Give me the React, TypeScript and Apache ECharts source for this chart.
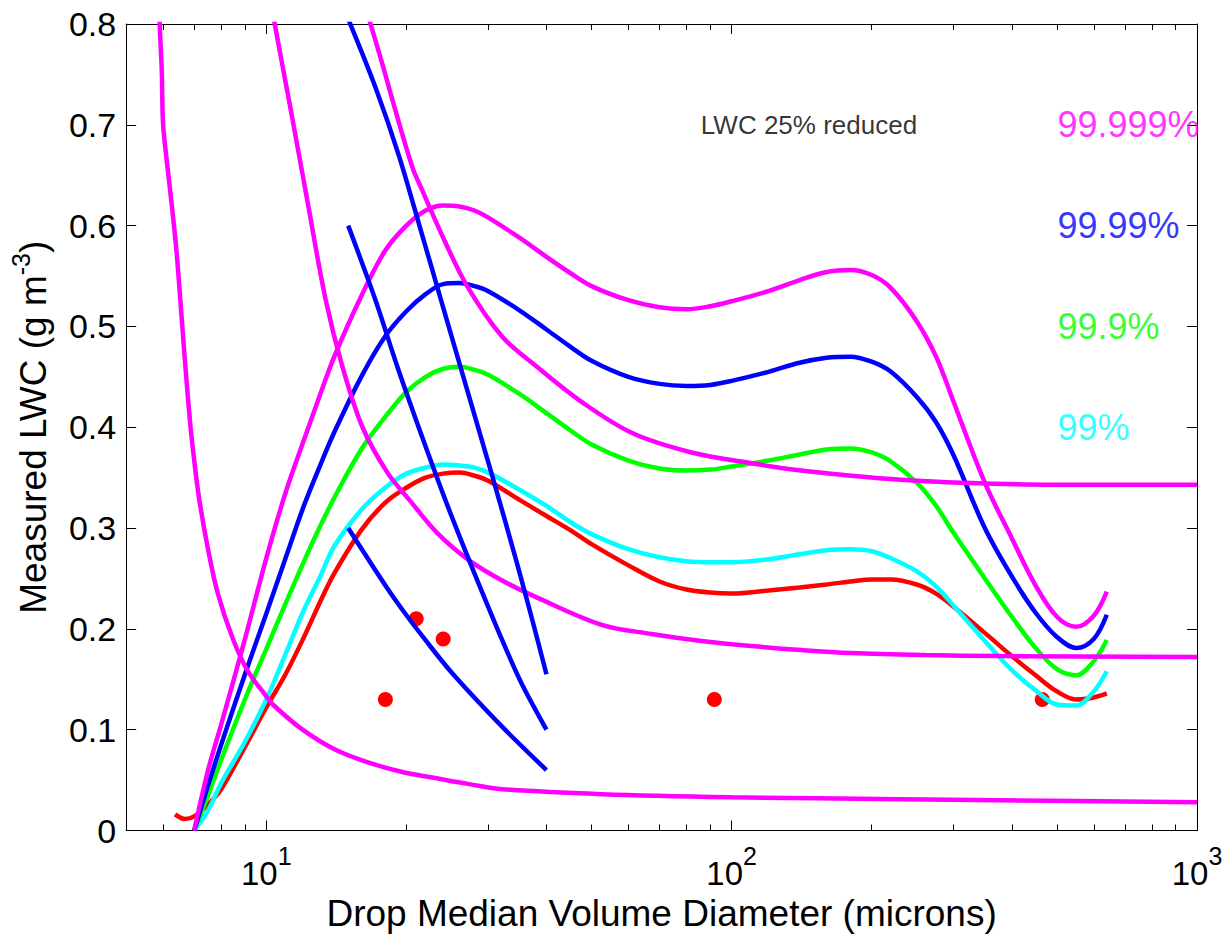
import React, { useEffect, useRef } from 'react';
import * as echarts from 'echarts';

const FONT = '"Liberation Sans", Arial, Helvetica, sans-serif';

// Drop median volume diameter grid (microns) for the five threshold curves
const diam = [7, 7.5, 8, 9, 10, 11, 12, 13, 14, 16, 18, 20, 22, 24, 26, 28, 30, 35, 40, 45, 50, 60, 70, 80, 90, 100, 120, 140, 160, 180, 200, 220, 250, 275, 300, 350, 400, 450, 500, 550, 600, 640];
const lwcRed = [0.014, 0.026, 0.041, 0.083, 0.122, 0.155, 0.19, 0.225, 0.255, 0.298, 0.325, 0.34, 0.35, 0.354, 0.355, 0.352, 0.347, 0.328, 0.312, 0.298, 0.284, 0.263, 0.247, 0.239, 0.236, 0.235, 0.238, 0.241, 0.244, 0.247, 0.249, 0.249, 0.244, 0.235, 0.222, 0.196, 0.173, 0.154, 0.138, 0.13, 0.132, 0.136];
const lwc99 = [0, 0.02, 0.047, 0.088, 0.13, 0.175, 0.217, 0.25, 0.282, 0.318, 0.34, 0.354, 0.36, 0.363, 0.362, 0.36, 0.355, 0.338, 0.322, 0.306, 0.294, 0.279, 0.271, 0.267, 0.266, 0.266, 0.269, 0.274, 0.278, 0.279, 0.277, 0.27, 0.257, 0.242, 0.223, 0.188, 0.159, 0.139, 0.125, 0.124, 0.138, 0.158];
const lwc999 = [0, 0.035, 0.07, 0.13, 0.18, 0.225, 0.265, 0.3, 0.33, 0.378, 0.41, 0.435, 0.45, 0.458, 0.46, 0.457, 0.452, 0.433, 0.414, 0.397, 0.383, 0.367, 0.359, 0.357, 0.358, 0.361, 0.367, 0.373, 0.378, 0.379, 0.375, 0.366, 0.345, 0.322, 0.295, 0.25, 0.212, 0.181, 0.16, 0.154, 0.168, 0.189];
const lwc9999 = [0, 0.045, 0.085, 0.155, 0.215, 0.27, 0.32, 0.36, 0.395, 0.45, 0.49, 0.515, 0.532, 0.542, 0.543, 0.54, 0.535, 0.516, 0.497, 0.48, 0.466, 0.45, 0.443, 0.441, 0.442, 0.446, 0.455, 0.464, 0.469, 0.47, 0.465, 0.455, 0.43, 0.405, 0.372, 0.3, 0.252, 0.216, 0.192, 0.181, 0.19, 0.214];
const lwc99999 = [0, 0.06, 0.105, 0.19, 0.27, 0.335, 0.385, 0.43, 0.47, 0.53, 0.575, 0.6, 0.615, 0.62, 0.619, 0.615, 0.608, 0.588, 0.569, 0.553, 0.54, 0.526, 0.519, 0.517, 0.52, 0.525, 0.535, 0.546, 0.554, 0.556, 0.551, 0.538, 0.505, 0.47, 0.425, 0.345, 0.29, 0.243, 0.212, 0.202, 0.213, 0.237];
const redHook: [number, number][] = [[6.37, 0.016], [6.68, 0.0115]];

// Falling magenta curves [diameter, LWC]
const magentaLow: [number, number][] = [[5.88, 0.86], [5.904, 0.8], [5.963, 0.754], [6.0, 0.702], [6.1, 0.668], [6.25, 0.625], [6.41, 0.576], [6.52, 0.533], [6.69, 0.465], [6.86, 0.405], [6.99, 0.37], [7.17, 0.33], [7.49, 0.28], [7.87, 0.235], [8.48, 0.19], [9.13, 0.158], [9.93, 0.135], [10.33, 0.125], [11.97, 0.1], [14.09, 0.08], [16.67, 0.067], [19.61, 0.058], [23.08, 0.052], [27.29, 0.046], [32.12, 0.041], [52.6, 0.036], [100, 0.033], [231, 0.031], [379, 0.03], [1000, 0.028]];
const magentaMid: [number, number][] = [[9.9, 0.86], [10.43, 0.8], [11.34, 0.71], [12.33, 0.618], [13.41, 0.527], [14.58, 0.46], [16.1, 0.4], [18.21, 0.355], [20.3, 0.328], [23.31, 0.295], [27.29, 0.268], [32.12, 0.248], [37.8, 0.232], [52.6, 0.204], [67.3, 0.195], [86.2, 0.188], [110.4, 0.183], [141.2, 0.179], [180.8, 0.176], [261.7, 0.174], [378.8, 0.173], [1000, 0.172]];
const magentaHigh: [number, number][] = [[15.3, 0.86], [16.75, 0.8], [17.77, 0.76], [18.66, 0.725], [20.6, 0.658], [21.64, 0.635], [23.89, 0.59], [27.02, 0.54], [32.12, 0.49], [38.16, 0.46], [47.66, 0.425], [61.3, 0.394], [82.0, 0.375], [108.1, 0.365], [141.2, 0.357], [180.8, 0.352], [231.3, 0.348], [310.6, 0.345], [484.8, 0.343], [1000, 0.343]];

// Straight-ish blue lines
const blueA: [number, number][] = [[15, 0.805], [17.17, 0.737], [19.32, 0.668], [21.43, 0.597], [23.89, 0.522], [27.02, 0.437], [30.58, 0.352], [34.58, 0.265], [37.24, 0.21], [40, 0.155]];
const blueB: [number, number][] = [[15, 0.6], [17.17, 0.526], [19.13, 0.46], [21.64, 0.39], [24.25, 0.328], [27.29, 0.268], [32.12, 0.189], [35.44, 0.145], [40, 0.1]];
const blueC: [number, number][] = [[15, 0.3], [18.03, 0.243], [19.61, 0.219], [21.97, 0.189], [25.1, 0.156], [32.12, 0.103], [40, 0.06]];

// Measured points
const redDots: [number, number][] = [[18.03, 0.13], [21.0, 0.21], [24.0, 0.19], [91.8, 0.13], [465, 0.13]];

// Ticks and labels
const xMajor = [10, 100, 1000];
const xMinor = [6, 7, 8, 9, 20, 30, 40, 50, 60, 70, 80, 90, 200, 300, 400, 500, 600, 700, 800, 900];
const percentLabels = ['99.999%', '99.99%', '99.9%', '99%'];
const percentY = [0.7, 0.6, 0.5, 0.4];
const percentX = 500;
const percentColors = ['#ff00ff', '#0000ff', '#00ff00', '#00ffff'];
const noteText = 'LWC 25% reduced';
const notePos: [number, number] = [251, 0.7];

const zip = (xs: number[], ys: number[]) => xs.map((x, i) => [x, ys[i]]);

export default function App() {
  const ref = useRef<HTMLDivElement>(null);
  useEffect(() => {
    if (!ref.current) return;
    const chart = echarts.init(ref.current, undefined, { renderer: 'svg' });
    const black = '#000';
    const baseX = {
      type: 'log' as const,
      logBase: 10,
      min: 5,
      max: 1000,
      gridIndex: 0,
      splitLine: { show: false },
      minorTick: { show: false },
    };
    const lineS = (name: string, data: any[], color: string, smooth: number | boolean = 0.35) => ({
      name,
      type: 'line',
      data,
      showSymbol: false,
      symbol: 'none',
      smooth,
      lineStyle: { color, width: 4.5 },
      itemStyle: { color },
      z: 3,
    });
    const option: any = {
      animation: false,
      textStyle: { fontFamily: FONT },
      grid: { left: 123, right: 29, top: 24, bottom: 106.5, containLabel: false },
      xAxis: [
        {
          ...baseX,
          position: 'bottom',
          axisLine: { show: true, onZero: false, lineStyle: { color: black, width: 1 } },
          axisTick: { show: true, inside: true, length: 10, customValues: xMajor, lineStyle: { color: black, width: 1 } },
          axisLabel: {
            show: true,
            customValues: xMajor,
            margin: 13,
            color: black,
            formatter: (v: number) => {
              const e = Math.round(Math.log10(v));
              if (Math.abs(Math.pow(10, e) - v) > 1e-6 * v) return '';
              return '{b|10}{s|' + e + '}';
            },
            rich: {
              b: { fontSize: 33, lineHeight: 60, fontFamily: FONT, color: black },
              s: { fontSize: 25, verticalAlign: 'top', fontFamily: FONT, color: black },
            },
          },
          name: 'Drop Median Volume Diameter (microns)',
          nameLocation: 'middle',
          nameGap: 57,
          nameTextStyle: { fontSize: 37, color: black, fontFamily: FONT },
        },
        {
          ...baseX,
          position: 'bottom',
          axisLine: { show: false, onZero: false },
          axisTick: { show: true, inside: true, length: 6, customValues: xMinor, lineStyle: { color: black, width: 1 } },
          axisLabel: { show: false },
        },
        {
          ...baseX,
          position: 'top',
          axisLine: { show: true, onZero: false, lineStyle: { color: black, width: 1 } },
          axisTick: { show: true, inside: true, length: 10, customValues: xMajor, lineStyle: { color: black, width: 1 } },
          axisLabel: { show: false },
        },
        {
          ...baseX,
          position: 'top',
          axisLine: { show: false, onZero: false },
          axisTick: { show: true, inside: true, length: 6, customValues: xMinor, lineStyle: { color: black, width: 1 } },
          axisLabel: { show: false },
        },
      ],
      yAxis: [
        {
          type: 'value',
          min: 0,
          max: 0.8,
          interval: 0.1,
          position: 'left',
          splitLine: { show: false },
          axisLine: { show: true, onZero: false, lineStyle: { color: black, width: 1 } },
          axisTick: { show: true, inside: true, length: 10, lineStyle: { color: black, width: 1 } },
          axisLabel: { show: true, fontSize: 34, margin: 10, color: black, fontFamily: FONT },
          name: 'Measured LWC (g m{s|-3})',
          nameLocation: 'middle',
          nameRotate: 90,
          nameGap: 61,
          nameTextStyle: {
            fontSize: 37,
            lineHeight: 50,
            color: black,
            fontFamily: FONT,
            rich: { s: { fontSize: 25, verticalAlign: 'top', color: black, fontFamily: FONT } },
          },
        },
        {
          type: 'value',
          min: 0,
          max: 0.8,
          interval: 0.1,
          position: 'right',
          splitLine: { show: false },
          axisLine: { show: true, onZero: false, lineStyle: { color: black, width: 1 } },
          axisTick: { show: true, inside: true, length: 10, lineStyle: { color: black, width: 1 } },
          axisLabel: { show: false },
        },
      ],
      series: [
        {
          name: 'measured',
          type: 'scatter',
          data: redDots,
          symbol: 'circle',
          symbolSize: 15,
          itemStyle: { color: '#ff0000', opacity: 1 },
          z: 2,
        },
        lineS('red', [...redHook, ...zip(diam, lwcRed)], '#ff0000'),
        lineS('99%', zip(diam, lwc99), '#00ffff'),
        lineS('99.9%', zip(diam, lwc999), '#00ff00'),
        lineS('99.99%', zip(diam, lwc9999), '#0000ff'),
        lineS('99.999%', zip(diam, lwc99999), '#ff00ff'),
        lineS('magentaLow', magentaLow, '#ff00ff', 0.35),
        lineS('magentaMid', magentaMid, '#ff00ff', 0.35),
        lineS('magentaHigh', magentaHigh, '#ff00ff', 0.35),
        lineS('blueA', blueA, '#0000ff', 0.3),
        lineS('blueB', blueB, '#0000ff', 0.3),
        lineS('blueC', blueC, '#0000ff', 0.35),
        {
          name: 'percent labels',
          type: 'scatter',
          symbolSize: 1,
          itemStyle: { color: 'rgba(0,0,0,0)' },
          silent: true,
          z: 5,
          data: percentLabels.map((t, i) => ({
            name: t,
            value: [percentX, percentY[i]],
            label: { color: percentColors[i] },
          })),
          label: {
            show: true,
            position: 'right',
            distance: 0,
            formatter: '{b}',
            fontSize: 36,
            fontFamily: FONT,
          },
        },
        {
          name: 'note',
          type: 'scatter',
          symbolSize: 1,
          itemStyle: { color: 'rgba(0,0,0,0)' },
          silent: true,
          z: 5,
          data: [{ name: noteText, value: notePos }],
          label: {
            show: true,
            position: 'left',
            distance: 0,
            formatter: '{b}',
            fontSize: 26,
            color: '#000',
            fontFamily: FONT,
          },
        },
      ],
    };
    chart.setOption(option);
    return () => chart.dispose();
  }, []);
  return (
    <div
      ref={ref}
      style={{ position: 'absolute', left: 0, top: 0, width: 1226, height: 937, background: '#fff' }}
    />
  );
}
